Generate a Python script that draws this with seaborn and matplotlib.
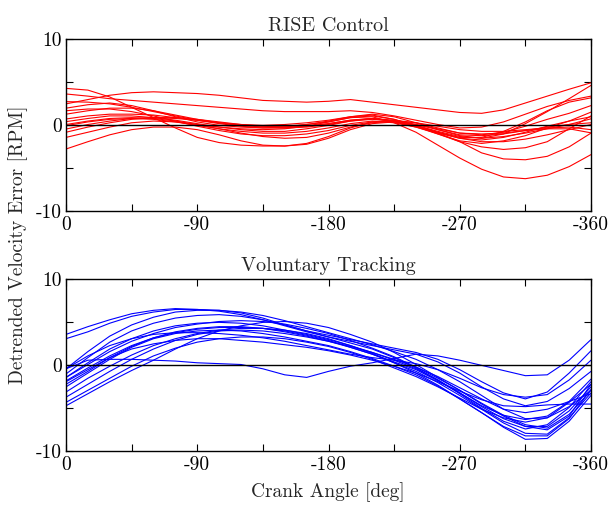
import matplotlib
matplotlib.use("Agg")
import matplotlib.pyplot as plt
import seaborn as sns
import pandas as pd

sns.set_style("ticks")
plt.rcParams['font.family'] = ['cmr10', 'DejaVu Serif']
plt.rcParams['axes.unicode_minus'] = False
plt.rcParams['mathtext.fontset'] = 'cm'

ANGLES = [0, -15, -30, -45, -60, -75, -90, -105, -120, -135, -150, -165, -180,
          -195, -210, -225, -240, -255, -270, -285, -300, -315, -330, -345, -360]

RISE = {
    "r01": [4.2, 4.0, 3.2, 2.0, 0.8, -0.4, -1.5, -2.1, -2.4, -2.5, -2.5, -2.2, -1.4, -0.4, 0.3, 0.5, 0.2, -0.4, -1.0, -1.2, -0.9, -0.2, 0.6, 1.3, 2.2],
    "r02": [2.4, 2.9, 3.4, 3.7, 3.8, 3.7, 3.6, 3.4, 3.1, 2.8, 2.7, 2.6, 2.7, 2.9, 2.6, 2.3, 2.0, 1.7, 1.4, 1.3, 1.7, 2.5, 3.3, 4.1, 4.85],
    "r03": [3.55, 3.3, 3.0, 2.8, 2.6, 2.4, 2.2, 2.0, 1.8, 1.6, 1.5, 1.5, 1.5, 1.6, 1.4, 1.0, 0.5, 0.0, -0.4, -0.3, 0.3, 1.2, 2.1, 2.8, 3.3],
    "r04": [2.66, 2.6, 2.4, 2.0, 1.5, 1.0, 0.5, 0.1, -0.2, -0.4, -0.4, -0.2, 0.1, 0.5, 0.7, 0.4, -0.2, -0.9, -1.5, -1.5, -0.8, 0.3, 1.6, 2.6, 3.1],
    "r05": [1.9, 2.3, 2.5, 2.2, 1.6, 0.9, 0.3, -0.1, -0.3, -0.4, -0.3, 0.0, 0.4, 0.9, 1.2, 0.9, 0.2, -0.6, -1.3, -1.6, -1.1, 0.1, 1.5, 3.0, 4.55],
    "r06": [1.6, 1.8, 1.8, 1.5, 1.0, 0.4, -0.2, -0.7, -1.1, -1.3, -1.3, -1.1, -0.7, -0.1, 0.3, 0.3, -0.3, -1.1, -1.9, -2.2, -1.9, -1.3, -0.4, 0.4, 1.44],
    "r07": [0.64, 1.0, 1.2, 1.2, 1.1, 0.8, 0.5, 0.2, 0.0, -0.1, 0.0, 0.2, 0.5, 0.9, 1.1, 0.6, -0.2, -1.0, -2.0, -3.3, -4.0, -4.1, -3.7, -2.6, -1.0],
    "r08": [0.33, 0.7, 1.0, 1.0, 0.8, 0.5, 0.1, -0.3, -0.5, -0.6, -0.5, -0.2, 0.3, 0.8, 0.9, 0.2, -0.9, -2.4, -3.9, -5.2, -6.1, -6.3, -5.9, -4.9, -3.5],
    "r09": [-0.14, 0.3, 0.6, 0.7, 0.6, 0.3, -0.1, -0.5, -0.8, -1.0, -1.0, -0.8, -0.4, 0.1, 0.4, 0.2, -0.3, -1.0, -1.6, -1.8, -1.5, -0.9, -0.2, 0.4, 0.9],
    "r10": [-0.53, 0.0, 0.4, 0.7, 0.8, 0.7, 0.5, 0.2, -0.1, -0.3, -0.4, -0.3, 0.0, 0.4, 0.6, 0.4, -0.1, -0.8, -1.4, -1.6, -1.4, -1.0, -0.5, 0.0, 0.66],
    "r11": [-0.9, -0.3, 0.2, 0.6, 0.8, 0.8, 0.6, 0.3, 0.0, -0.2, -0.3, -0.2, 0.1, 0.5, 0.7, 0.5, 0.0, -0.6, -1.2, -1.3, -1.1, -0.7, -0.3, 0.0, 0.2],
    "r12": [-1.5, -0.9, -0.3, 0.2, 0.4, 0.3, 0.0, -0.5, -1.0, -1.4, -1.6, -1.5, -1.0, -0.3, 0.2, 0.4, 0.2, -0.2, -0.6, -0.8, -0.8, -0.6, -0.4, -0.3, -0.6],
    "r13": [-2.85, -2.0, -1.2, -0.6, -0.3, -0.3, -0.6, -1.2, -1.9, -2.4, -2.5, -2.3, -1.6, -0.6, 0.1, 0.3, 0.0, -0.5, -1.0, -1.1, -1.0, -0.7, -0.5, -0.5, -0.97],
    "r14": [1.2, 1.6, 1.9, 1.9, 1.6, 1.1, 0.6, 0.2, -0.1, -0.2, -0.2, 0.0, 0.3, 0.8, 1.0, 0.6, -0.1, -0.9, -1.6, -2.0, -2.0, -1.7, -1.2, -0.6, 0.0],
    "r15": [0.0, 0.4, 0.7, 0.8, 0.7, 0.4, 0.0, -0.3, -0.6, -0.8, -0.8, -0.5, -0.1, 0.4, 0.7, 0.4, -0.2, -1.1, -2.0, -2.6, -2.9, -2.7, -2.0, -0.5, 1.0],
}

VOLUNTARY = {
    "b01": [3.5, 4.4, 5.2, 5.9, 6.3, 6.5, 6.4, 6.3, 6.0, 5.4, 4.6, 3.9, 3.4, 2.9, 2.4, 1.9, 1.4, 0.6, -0.6, -2.0, -3.3, -4.0, -3.2, -1.0, 1.6],
    "b02": [3.0, 3.8, 4.8, 5.6, 6.1, 6.4, 6.4, 6.2, 5.8, 5.2, 4.5, 3.8, 3.2, 2.7, 2.2, 1.7, 1.2, 0.3, -1.0, -2.6, -4.0, -4.8, -4.3, -2.8, -0.8],
    "b03": [-0.5, 0.5, 0.6, 0.6, 0.5, 0.4, 0.2, 0.1, 0.0, -0.5, -1.2, -1.5, -0.8, -0.2, 0.2, 0.7, 1.2, 1.0, 0.5, -0.1, -0.7, -1.3, -1.2, 0.5, 2.9],
    "b04": [-0.5, 1.5, 3.3, 4.6, 5.5, 6.1, 6.3, 6.3, 6.1, 5.7, 5.1, 4.4, 3.7, 3.0, 2.3, 1.5, 0.6, -0.6, -2.0, -3.6, -5.2, -6.3, -6.2, -4.4, -2.3],
    "b05": [-1.1, 0.8, 2.6, 3.9, 4.8, 5.4, 5.7, 5.8, 5.6, 5.2, 4.6, 3.9, 3.2, 2.5, 1.8, 0.8, -0.4, -1.8, -3.4, -5.1, -6.6, -7.5, -7.0, -5.0, -2.0],
    "b06": [-1.5, 0.2, 1.8, 3.0, 3.9, 4.5, 4.8, 4.9, 4.8, 4.5, 4.0, 3.5, 2.9, 2.2, 1.4, 0.5, -0.5, -1.8, -3.3, -4.9, -6.3, -7.2, -7.2, -5.4, -2.6],
    "b07": [-1.9, -0.4, 1.0, 2.2, 3.1, 3.7, 4.1, 4.3, 4.3, 4.2, 3.9, 3.4, 2.8, 2.0, 1.2, 0.2, -0.8, -2.1, -3.6, -5.2, -6.8, -8.0, -8.1, -6.2, -3.3],
    "b08": [-2.3, -0.8, 0.8, 2.1, 3.1, 3.8, 4.2, 4.4, 4.4, 4.2, 3.8, 3.3, 2.7, 2.0, 1.2, 0.3, -0.6, -1.9, -3.3, -4.8, -5.9, -6.4, -6.0, -4.3, -1.7],
    "b09": [-2.6, -1.0, 0.6, 2.0, 3.0, 3.6, 3.9, 4.0, 3.9, 3.6, 3.2, 2.7, 2.2, 1.5, 0.7, -0.2, -1.2, -2.5, -4.0, -5.6, -7.2, -8.3, -8.3, -6.3, -2.9],
    "b10": [-3.2, -1.6, -0.2, 1.1, 2.2, 3.0, 3.6, 4.0, 4.2, 4.2, 4.0, 3.6, 3.0, 2.2, 1.3, 0.2, -1.0, -2.4, -4.0, -5.6, -7.3, -8.7, -8.6, -6.6, -3.6],
    "b11": [-3.8, -2.3, -0.8, 0.6, 1.8, 2.8, 3.5, 3.9, 4.0, 3.9, 3.6, 3.2, 2.7, 2.1, 1.4, 0.6, -0.3, -1.4, -2.7, -4.0, -5.2, -5.6, -5.2, -4.3, -3.4],
    "b12": [-4.4, -3.0, -1.6, -0.2, 1.0, 1.9, 2.6, 3.0, 3.2, 3.2, 3.0, 2.6, 2.1, 1.4, 0.6, -0.4, -1.4, -2.6, -3.9, -5.2, -6.2, -6.7, -6.2, -4.9, -3.0],
    "b13": [-4.8, -3.4, -2.0, -0.7, 0.5, 1.8, 3.0, 3.9, 4.5, 4.9, 5.0, 4.8, 4.3, 3.5, 2.6, 1.4, 0.0, -1.5, -3.0, -4.6, -6.0, -7.2, -7.6, -6.0, -2.3],
    "b14": [-2.0, -0.6, 0.8, 1.8, 2.4, 2.8, 3.0, 3.0, 2.8, 2.6, 2.3, 2.0, 1.6, 1.1, 0.5, -0.2, -1.0, -2.0, -3.1, -4.1, -4.8, -4.9, -4.7, -4.6, -4.6],
    "b15": [-0.5, 1.0, 2.2, 3.0, 3.5, 3.7, 3.7, 3.6, 3.4, 3.1, 2.7, 2.2, 1.7, 1.2, 0.8, 0.5, 0.1, -0.6, -1.6, -2.7, -3.5, -3.8, -3.5, -1.8, 0.5],
    "b16": [-1.5, 0.0, 1.5, 2.7, 3.6, 4.3, 4.7, 5.0, 5.1, 5.0, 4.7, 4.2, 3.6, 2.8, 1.9, 0.9, -0.3, -1.6, -3.0, -4.5, -5.9, -7.0, -7.4, -5.8, -3.0],
}

TITLES = ["RISE Control", "Voluntary Tracking"]
X_TICKS = [0, -45, -90, -135, -180, -225, -270, -315, -360]
X_TICK_LABELS = ["0", "", "-90", "", "-180", "", "-270", "", "-360"]
Y_TICKS = [-10, -5, 0, 5, 10]
Y_TICK_LABELS = ["-10", "", "0", "", "10"]


def long_form(curves):
    rows = []
    for name, vals in curves.items():
        for a, v in zip(ANGLES, vals):
            rows.append({"trial": name, "angle": a, "value": v})
    return pd.DataFrame(rows)


fig = plt.figure(figsize=(6.1, 5.06), dpi=100)
W, H = 610, 506
ax1 = fig.add_axes([66 / W, 1 - 211.5 / H, 525 / W, 172 / H])
ax2 = fig.add_axes([66 / W, 1 - 451.5 / H, 525 / W, 172 / H])

FS = 14
for ax, curves, color, title in [(ax1, RISE, "#ff0000", TITLES[0]),
                                 (ax2, VOLUNTARY, "#0000ff", TITLES[1])]:
    df = long_form(curves)
    sns.lineplot(data=df, x="angle", y="value", units="trial", estimator=None,
                 color=color, lw=0.8, ax=ax, legend=False)
    ax.axhline(0, color="black", lw=1.0, zorder=5)
    ax.set_xlim(0, -360)
    ax.set_ylim(-10, 10)
    ax.set_xticks(X_TICKS)
    ax.set_xticklabels(X_TICK_LABELS, fontsize=FS)
    ax.set_yticks(Y_TICKS)
    ax.set_yticklabels(Y_TICK_LABELS, fontsize=FS)
    ax.tick_params(direction="in", top=True, right=True, length=5, width=0.8,
                   pad=3, colors="black")
    for s in ax.spines.values():
        s.set_visible(True)
        s.set_linewidth(1.0)
        s.set_color("black")
    ax.set_xlabel("")
    ax.set_ylabel("")
    ax.set_title(title, fontsize=14.5, pad=6)

fig.text(18 / W, 1 - 245 / H, "Detrended Velocity Error [RPM]", rotation=90,
         ha="center", va="center", fontsize=FS)
fig.text(328 / W, 1 - 492 / H, "Crank Angle [deg]", ha="center", va="center",
         fontsize=FS)

fig.savefig("out.png", dpi=100)
